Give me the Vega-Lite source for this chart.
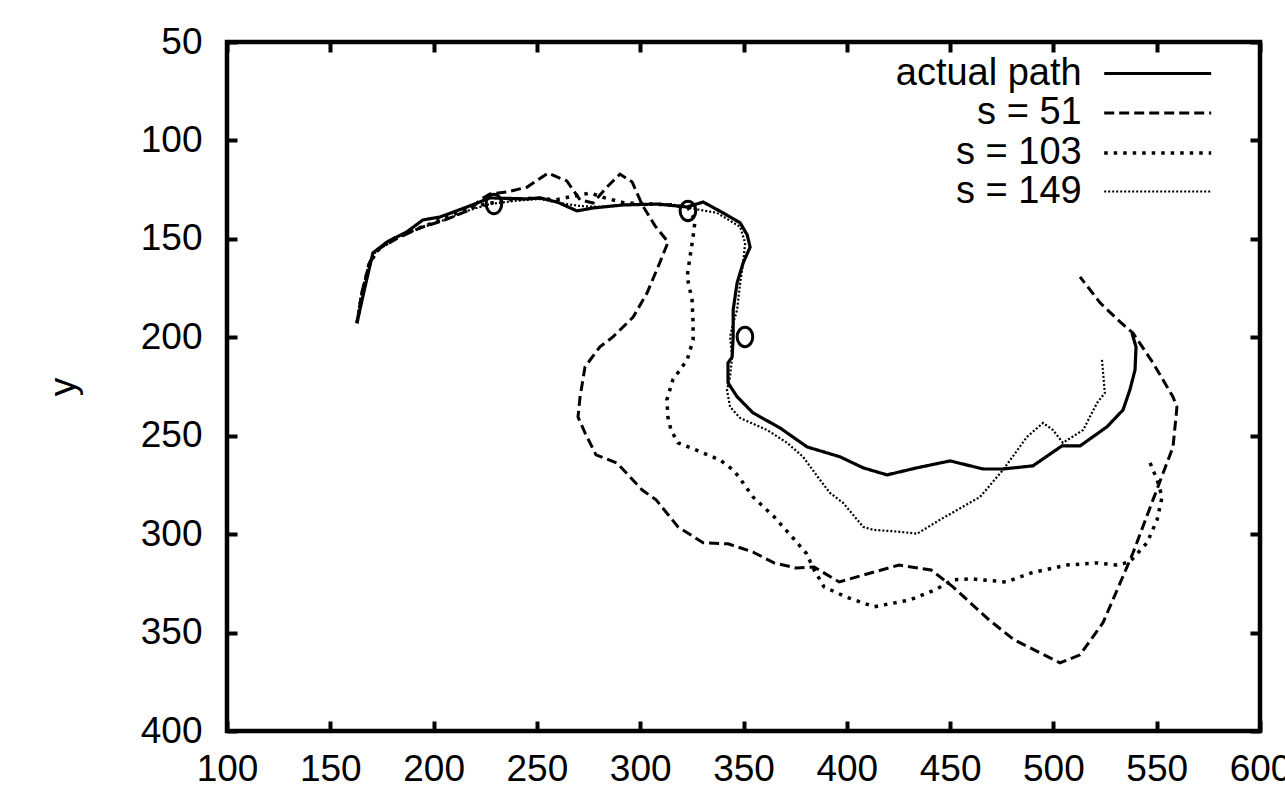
{
"$schema": "https://vega.github.io/schema/vega-lite/v6.json",
"width": 1033, "height": 689,
"autosize": {"type": "none"},
"padding": {"left": 227, "top": 42, "right": 25, "bottom": 78},
"background": "white",
"config": {
 "view": {"stroke": "black", "strokeWidth": 4.5},
 "font": "Liberation Sans",
 "axis": {"domain": false, "grid": false, "tickColor": "black", "tickWidth": 4, "tickSize": -10, "labelFont": "Liberation Sans", "labelFontSize": 37, "labelColor": "black", "labelFlush": false, "labelOverlap": false, "titleFont": "Liberation Sans", "titleFontSize": 37, "titleFontWeight": "normal", "titleColor": "black"}
},
"datasets": {
 "paths": [
  {"s":"actual path","i":1,"x":162.9,"y":192.8},{"s":"actual path","i":2,"x":166.8,"y":174.4},{"s":"actual path","i":3,"x":170.6,"y":157.2},{"s":"actual path","i":4,"x":177.4,"y":151.6},{"s":"actual path","i":5,"x":187.0,"y":146.5},{"s":"actual path","i":6,"x":194.8,"y":140.4},{"s":"actual path","i":7,"x":203.1,"y":138.9},{"s":"actual path","i":8,"x":216.2,"y":133.8},{"s":"actual path","i":9,"x":227.3,"y":129.2},{"s":"actual path","i":10,"x":245.3,"y":129.7},{"s":"actual path","i":11,"x":251.5,"y":129.2},{"s":"actual path","i":12,"x":259.8,"y":131.3},{"s":"actual path","i":13,"x":269.4,"y":135.8},{"s":"actual path","i":14,"x":277.2,"y":134.3},{"s":"actual path","i":15,"x":291.7,"y":132.8},{"s":"actual path","i":16,"x":308.2,"y":132.3},{"s":"actual path","i":17,"x":322.7,"y":133.8},{"s":"actual path","i":18,"x":330.5,"y":131.3},{"s":"actual path","i":19,"x":340.1,"y":136.8},{"s":"actual path","i":20,"x":348.4,"y":141.9},{"s":"actual path","i":21,"x":351.8,"y":148.0},{"s":"actual path","i":22,"x":353.2,"y":154.2},{"s":"actual path","i":23,"x":349.8,"y":162.3},{"s":"actual path","i":24,"x":346.9,"y":172.4},{"s":"actual path","i":25,"x":345.0,"y":186.1},{"s":"actual path","i":26,"x":345.0,"y":199.8},{"s":"actual path","i":27,"x":344.5,"y":210.0},{"s":"actual path","i":28,"x":342.5,"y":213.0},{"s":"actual path","i":29,"x":342.5,"y":223.1},{"s":"actual path","i":30,"x":346.9,"y":230.2},{"s":"actual path","i":31,"x":354.6,"y":238.4},{"s":"actual path","i":32,"x":367.6,"y":246.0},{"s":"actual path","i":33,"x":380.8,"y":255.7},{"s":"actual path","i":34,"x":396.7,"y":260.7},{"s":"actual path","i":35,"x":407.9,"y":266.3},{"s":"actual path","i":36,"x":419.5,"y":269.9},{"s":"actual path","i":37,"x":434.0,"y":266.3},{"s":"actual path","i":38,"x":450.0,"y":262.8},{"s":"actual path","i":39,"x":466.0,"y":266.9},{"s":"actual path","i":40,"x":475.6,"y":266.9},{"s":"actual path","i":41,"x":490.1,"y":265.3},{"s":"actual path","i":42,"x":504.1,"y":255.2},{"s":"actual path","i":43,"x":512.9,"y":255.2},{"s":"actual path","i":44,"x":525.9,"y":245.5},{"s":"actual path","i":45,"x":533.7,"y":236.9},{"s":"actual path","i":46,"x":537.0,"y":226.8},{"s":"actual path","i":47,"x":539.5,"y":216.6},{"s":"actual path","i":48,"x":540.0,"y":204.9},{"s":"actual path","i":49,"x":538.0,"y":197.8},
  {"s":"s = 51","i":1,"x":162.9,"y":192.8},{"s":"s = 51","i":2,"x":165.3,"y":176.9},{"s":"s = 51","i":3,"x":169.1,"y":161.7},{"s":"s = 51","i":4,"x":174.0,"y":154.7},{"s":"s = 51","i":5,"x":182.8,"y":149.5},{"s":"s = 51","i":6,"x":193.4,"y":144.4},{"s":"s = 51","i":7,"x":205.5,"y":140.4},{"s":"s = 51","i":8,"x":217.6,"y":135.3},{"s":"s = 51","i":9,"x":222.5,"y":130.2},{"s":"s = 51","i":10,"x":227.3,"y":127.2},{"s":"s = 51","i":11,"x":235.5,"y":126.2},{"s":"s = 51","i":12,"x":245.3,"y":123.7},{"s":"s = 51","i":13,"x":255.4,"y":116.6},{"s":"s = 51","i":14,"x":264.5,"y":120.6},{"s":"s = 51","i":15,"x":270.9,"y":130.2},{"s":"s = 51","i":16,"x":277.2,"y":131.8},{"s":"s = 51","i":17,"x":283.9,"y":123.7},{"s":"s = 51","i":18,"x":290.2,"y":117.1},{"s":"s = 51","i":19,"x":296.1,"y":121.1},{"s":"s = 51","i":20,"x":301.0,"y":132.8},{"s":"s = 51","i":21,"x":307.2,"y":143.4},{"s":"s = 51","i":22,"x":313.5,"y":151.6},{"s":"s = 51","i":23,"x":309.6,"y":161.8},{"s":"s = 51","i":24,"x":303.3,"y":177.5},{"s":"s = 51","i":25,"x":296.6,"y":189.7},{"s":"s = 51","i":26,"x":286.8,"y":199.8},{"s":"s = 51","i":27,"x":280.5,"y":204.9},{"s":"s = 51","i":28,"x":273.3,"y":215.0},{"s":"s = 51","i":29,"x":270.9,"y":230.2},{"s":"s = 51","i":30,"x":269.9,"y":240.5},{"s":"s = 51","i":31,"x":273.3,"y":248.6},{"s":"s = 51","i":32,"x":278.6,"y":259.7},{"s":"s = 51","i":33,"x":288.8,"y":263.9},{"s":"s = 51","i":34,"x":301.0,"y":277.6},{"s":"s = 51","i":35,"x":307.7,"y":282.6},{"s":"s = 51","i":36,"x":318.3,"y":296.3},{"s":"s = 51","i":37,"x":330.5,"y":304.4},{"s":"s = 51","i":38,"x":342.5,"y":304.9},{"s":"s = 51","i":39,"x":354.6,"y":309.1},{"s":"s = 51","i":40,"x":364.8,"y":314.6},{"s":"s = 51","i":41,"x":375.4,"y":317.2},{"s":"s = 51","i":42,"x":384.2,"y":316.7},{"s":"s = 51","i":43,"x":396.3,"y":324.3},{"s":"s = 51","i":44,"x":408.3,"y":320.7},{"s":"s = 51","i":45,"x":425.3,"y":315.7},{"s":"s = 51","i":46,"x":440.8,"y":318.2},{"s":"s = 51","i":47,"x":451.4,"y":326.8},{"s":"s = 51","i":48,"x":468.8,"y":343.5},{"s":"s = 51","i":49,"x":481.0,"y":353.7},{"s":"s = 51","i":50,"x":503.2,"y":365.4},{"s":"s = 51","i":51,"x":512.9,"y":361.3},{"s":"s = 51","i":52,"x":524.0,"y":345.0},{"s":"s = 51","i":53,"x":532.3,"y":324.8},{"s":"s = 51","i":54,"x":538.5,"y":309.6},{"s":"s = 51","i":55,"x":548.2,"y":282.6},{"s":"s = 51","i":56,"x":557.9,"y":255.7},{"s":"s = 51","i":57,"x":559.8,"y":235.4},{"s":"s = 51","i":58,"x":557.9,"y":230.3},{"s":"s = 51","i":59,"x":548.2,"y":213.0},{"s":"s = 51","i":60,"x":538.5,"y":197.8},{"s":"s = 51","i":61,"x":532.3,"y":192.2},{"s":"s = 51","i":62,"x":522.6,"y":182.5},{"s":"s = 51","i":63,"x":512.9,"y":169.3},
  {"s":"s = 103","i":1,"x":162.9,"y":192.8},{"s":"s = 103","i":2,"x":165.3,"y":178.5},{"s":"s = 103","i":3,"x":168.6,"y":163.3},{"s":"s = 103","i":4,"x":173.0,"y":155.7},{"s":"s = 103","i":5,"x":181.3,"y":149.5},{"s":"s = 103","i":6,"x":190.9,"y":145.4},{"s":"s = 103","i":7,"x":203.1,"y":140.4},{"s":"s = 103","i":8,"x":215.2,"y":135.3},{"s":"s = 103","i":9,"x":224.9,"y":132.3},{"s":"s = 103","i":10,"x":237.0,"y":130.2},{"s":"s = 103","i":11,"x":249.1,"y":129.2},{"s":"s = 103","i":12,"x":258.8,"y":130.2},{"s":"s = 103","i":13,"x":268.4,"y":128.2},{"s":"s = 103","i":14,"x":275.7,"y":126.7},{"s":"s = 103","i":15,"x":282.9,"y":129.2},{"s":"s = 103","i":16,"x":292.7,"y":131.8},{"s":"s = 103","i":17,"x":304.7,"y":132.3},{"s":"s = 103","i":18,"x":314.4,"y":132.8},{"s":"s = 103","i":19,"x":323.2,"y":134.3},{"s":"s = 103","i":20,"x":326.6,"y":140.4},{"s":"s = 103","i":21,"x":325.6,"y":149.0},{"s":"s = 103","i":22,"x":324.1,"y":159.2},{"s":"s = 103","i":23,"x":322.7,"y":169.3},{"s":"s = 103","i":24,"x":325.1,"y":181.0},{"s":"s = 103","i":25,"x":325.6,"y":192.8},{"s":"s = 103","i":26,"x":325.6,"y":201.4},{"s":"s = 103","i":27,"x":322.7,"y":211.5},{"s":"s = 103","i":28,"x":315.8,"y":221.6},{"s":"s = 103","i":29,"x":312.9,"y":231.8},{"s":"s = 103","i":30,"x":313.4,"y":240.5},{"s":"s = 103","i":31,"x":314.9,"y":247.1},{"s":"s = 103","i":32,"x":318.3,"y":253.6},{"s":"s = 103","i":33,"x":326.9,"y":257.2},{"s":"s = 103","i":34,"x":338.6,"y":262.3},{"s":"s = 103","i":35,"x":345.0,"y":267.4},{"s":"s = 103","i":36,"x":347.8,"y":271.0},{"s":"s = 103","i":37,"x":354.6,"y":281.1},{"s":"s = 103","i":38,"x":364.8,"y":291.2},{"s":"s = 103","i":39,"x":373.5,"y":301.4},{"s":"s = 103","i":40,"x":380.3,"y":309.6},{"s":"s = 103","i":41,"x":384.2,"y":318.2},{"s":"s = 103","i":42,"x":389.0,"y":326.8},{"s":"s = 103","i":43,"x":399.6,"y":331.9},{"s":"s = 103","i":44,"x":413.2,"y":336.9},{"s":"s = 103","i":45,"x":430.6,"y":333.4},{"s":"s = 103","i":46,"x":442.7,"y":328.3},{"s":"s = 103","i":47,"x":451.4,"y":323.2},{"s":"s = 103","i":48,"x":460.1,"y":322.7},{"s":"s = 103","i":49,"x":477.1,"y":324.3},{"s":"s = 103","i":50,"x":489.2,"y":319.7},{"s":"s = 103","i":51,"x":506.6,"y":315.7},{"s":"s = 103","i":52,"x":520.6,"y":314.6},{"s":"s = 103","i":53,"x":530.8,"y":315.7},{"s":"s = 103","i":54,"x":537.0,"y":314.1},{"s":"s = 103","i":55,"x":545.3,"y":304.4},{"s":"s = 103","i":56,"x":550.2,"y":292.7},{"s":"s = 103","i":57,"x":552.6,"y":281.1},{"s":"s = 103","i":58,"x":550.2,"y":272.4},{"s":"s = 103","i":59,"x":546.8,"y":263.8},
  {"s":"s = 149","i":1,"x":162.9,"y":192.8},{"s":"s = 149","i":2,"x":164.4,"y":181.0},{"s":"s = 149","i":3,"x":167.3,"y":168.3},{"s":"s = 149","i":4,"x":171.6,"y":157.2},{"s":"s = 149","i":5,"x":178.9,"y":150.5},{"s":"s = 149","i":6,"x":188.5,"y":146.5},{"s":"s = 149","i":7,"x":198.2,"y":142.9},{"s":"s = 149","i":8,"x":208.0,"y":139.4},{"s":"s = 149","i":9,"x":217.6,"y":135.3},{"s":"s = 149","i":10,"x":227.3,"y":132.3},{"s":"s = 149","i":11,"x":239.4,"y":130.7},{"s":"s = 149","i":12,"x":251.5,"y":129.7},{"s":"s = 149","i":13,"x":261.2,"y":131.8},{"s":"s = 149","i":14,"x":270.9,"y":133.3},{"s":"s = 149","i":15,"x":280.5,"y":133.8},{"s":"s = 149","i":16,"x":290.2,"y":132.8},{"s":"s = 149","i":17,"x":302.3,"y":132.3},{"s":"s = 149","i":18,"x":314.4,"y":132.3},{"s":"s = 149","i":19,"x":324.1,"y":134.3},{"s":"s = 149","i":20,"x":329.0,"y":135.3},{"s":"s = 149","i":21,"x":337.2,"y":136.8},{"s":"s = 149","i":22,"x":348.4,"y":143.9},{"s":"s = 149","i":23,"x":350.8,"y":152.1},{"s":"s = 149","i":24,"x":349.8,"y":162.3},{"s":"s = 149","i":25,"x":348.4,"y":172.4},{"s":"s = 149","i":26,"x":346.9,"y":186.1},{"s":"s = 149","i":27,"x":345.0,"y":192.8},{"s":"s = 149","i":28,"x":343.5,"y":199.8},{"s":"s = 149","i":29,"x":344.5,"y":210.0},{"s":"s = 149","i":30,"x":343.5,"y":220.1},{"s":"s = 149","i":31,"x":342.0,"y":226.8},{"s":"s = 149","i":32,"x":343.5,"y":235.4},{"s":"s = 149","i":33,"x":348.4,"y":241.0},{"s":"s = 149","i":34,"x":361.4,"y":247.1},{"s":"s = 149","i":35,"x":371.1,"y":253.6},{"s":"s = 149","i":36,"x":378.8,"y":260.7},{"s":"s = 149","i":37,"x":387.0,"y":272.4},{"s":"s = 149","i":38,"x":391.9,"y":279.1},{"s":"s = 149","i":39,"x":398.2,"y":284.1},{"s":"s = 149","i":40,"x":407.9,"y":296.3},{"s":"s = 149","i":41,"x":412.7,"y":297.8},{"s":"s = 149","i":42,"x":425.8,"y":298.8},{"s":"s = 149","i":43,"x":434.0,"y":299.8},{"s":"s = 149","i":44,"x":445.1,"y":292.7},{"s":"s = 149","i":45,"x":464.5,"y":281.1},{"s":"s = 149","i":46,"x":475.6,"y":267.4},{"s":"s = 149","i":47,"x":487.2,"y":250.6},{"s":"s = 149","i":48,"x":495.0,"y":243.5},{"s":"s = 149","i":49,"x":499.8,"y":247.1},{"s":"s = 149","i":50,"x":504.6,"y":253.6},{"s":"s = 149","i":51,"x":514.4,"y":247.1},{"s":"s = 149","i":52,"x":521.1,"y":233.4},{"s":"s = 149","i":53,"x":524.9,"y":228.3},{"s":"s = 149","i":54,"x":523.5,"y":211.4}
 ],
 "circles": [
  {"x":229.2,"y":132.3},{"x":323.1,"y":135.8},{"x":350.7,"y":199.8}
 ]
},
"layer": [
 {
  "data": {"name": "paths"},
  "mark": {"type": "line", "color": "black"},
  "encoding": {
   "x": {"field": "x", "type": "quantitative", "scale": {"domain": [100, 600], "nice": false, "zero": false}, "axis": {"orient": "bottom", "values": [100,150,200,250,300,350,400,450,500,550,600], "title": null, "labelPadding": 30, "labelDx": 5}},
   "y": {"field": "y", "type": "quantitative", "scale": {"domain": [50, 400], "reverse": true, "nice": false, "zero": false}, "axis": {"orient": "left", "values": [50,100,150,200,250,300,350,400], "title": "y", "labelPadding": 35, "titlePadding": 58}},
   "order": {"field": "i", "type": "quantitative"},
   "strokeDash": {"field": "s", "type": "nominal", "scale": {"domain": ["actual path", "s = 51", "s = 103", "s = 149"], "range": [[1, 0], [10, 5], [3.5, 6], [2, 2]]},
    "legend": {"orient": "none", "legendX": 875, "legendY": 12, "title": null, "symbolType": "M-3,0H3", "symbolSize": 1272, "symbolOffset": 35.7, "symbolStrokeColor": "black", "symbolStrokeWidth": 2.5, "labelFontSize": 38, "labelFont": "Liberation Sans", "labelColor": "black", "labelAlign": "right", "labelOffset": -96, "labelBaseline": "middle", "rowPadding": 0.5, "padding": 0, "labelLimit": 0}},
   "strokeWidth": {"field": "s", "type": "ordinal", "scale": {"type": "ordinal", "domain": ["actual path", "s = 51", "s = 103", "s = 149"], "range": [3.2, 3, 3.5, 2.2]}, "legend": null}
  }
 },
 {
  "data": {"name": "circles"},
  "mark": {"type": "point", "shape": "M-0.8,0A0.8,1 0 1,0 0.8,0A0.8,1 0 1,0 -0.8,0Z", "size": 380, "filled": false, "stroke": "black", "strokeWidth": 3, "opacity": 1},
  "encoding": {
   "x": {"field": "x", "type": "quantitative", "axis": {"orient": "top", "values": [100,150,200,250,300,350,400,450,500,550,600], "labels": false, "title": null}},
   "y": {"field": "y", "type": "quantitative", "axis": {"orient": "right", "values": [50,100,150,200,250,300,350,400], "labels": false, "title": null}}
  }
 }
],
"resolve": {"axis": {"x": "independent", "y": "independent"}}
}
